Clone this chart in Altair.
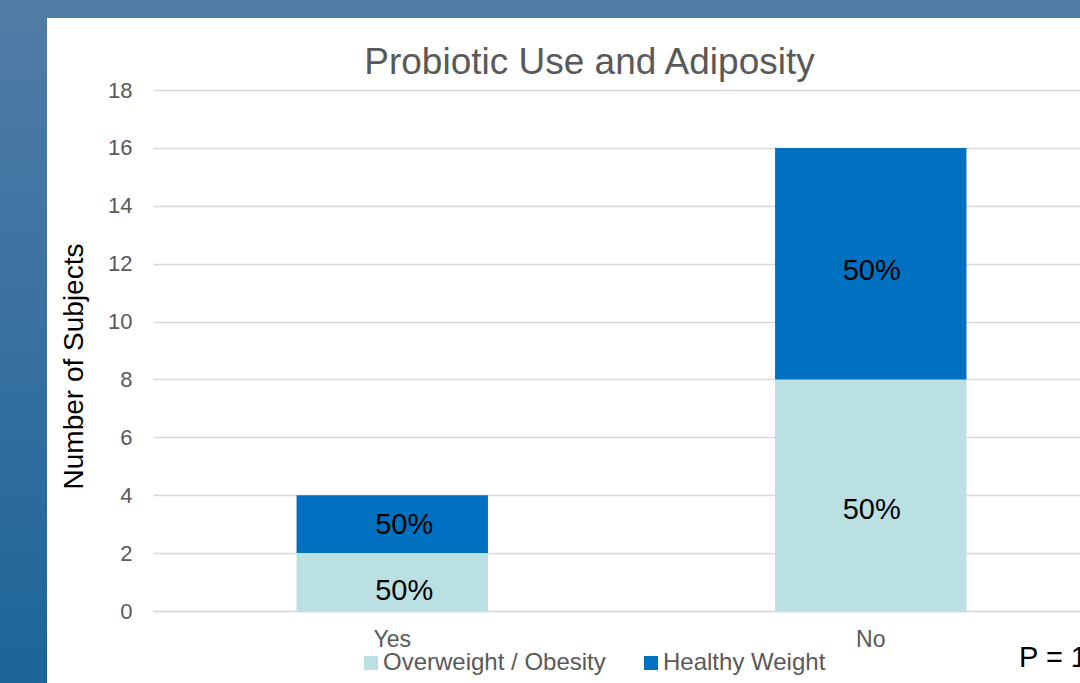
import altair as alt
import pandas as pd

# ---- data ----
categories = ["Yes", "No"]
series = ["Overweight / Obesity", "Healthy Weight"]
overweight = [2, 8]
healthy = [2, 8]
colors = ["#bbe0e3", "#0070c0"]
y_ticks = [0, 2, 4, 6, 8, 10, 12, 14, 16, 18]
title_text = "Probiotic Use and Adiposity"
y_title = "Number of Subjects"
p_text = "P = 1.00"

rows = []
for i, c in enumerate(categories):
    vals = [overweight[i], healthy[i]]
    total = sum(vals)
    for j, (s, v) in enumerate(zip(series, vals)):
        rows.append({"probiotic": c, "group": s, "count": v, "order": j,
                     "pct": f"{round(100 * v / total)}%"})
df = pd.DataFrame(rows)

FONT = "Liberation Sans"
W, H = 927, 521
GRAY = "#595959"

x_scale = alt.Scale(domain=categories, range=[0, 957], paddingInner=0.6, paddingOuter=0.3)
x_axis = alt.Axis(title=None, labelAngle=0, labelFontSize=23, labelFont=FONT, labelColor=GRAY,
                  labelPadding=17, ticks=False, domainColor="#d9d9d9", domainWidth=1.5, grid=False)
y_scale = alt.Scale(domain=[0, 18], nice=False)
y_axis = alt.Axis(values=y_ticks, title=y_title, labelFontSize=22, labelFont=FONT, labelColor=GRAY,
                  labelPadding=21, ticks=False, domain=False, gridColor="#d9d9d9", gridWidth=1.5,
                  titleFontSize=28, titleFont=FONT, titleColor="black", titleFontWeight="normal",
                  titleX=-65, titleY=276, titleAlign="center", titleBaseline="bottom", titleAngle=270)

bars = alt.Chart(df).mark_bar().encode(
    x=alt.X("probiotic:N", sort=categories, scale=x_scale, axis=x_axis),
    y=alt.Y("count:Q", stack="zero", scale=y_scale, axis=y_axis),
    color=alt.Color("group:N", scale=alt.Scale(domain=series, range=colors),
                    legend=alt.Legend(orient="none", legendX=206, legendY=561, direction="horizontal",
                                      title=None, symbolType="square", symbolSize=196,
                                      symbolStrokeWidth=0, symbolOpacity=1, labelFontSize=24,
                                      labelFont=FONT, labelColor=GRAY, labelOffset=0,
                                      labelLimit=0, columnPadding=33)),
    order=alt.Order("order:Q", sort="ascending"),
)

label_base = alt.Chart(df).transform_stack(
    stack="count", groupby=["probiotic"], as_=["y0", "y1"],
    sort=[alt.SortField("order", "ascending")]
).transform_calculate(mid="(datum.y0 + datum.y1) / 2")

def label_layer(order_value, category, dx, dy):
    return label_base.transform_filter(
        (alt.datum.order == order_value) & (alt.datum.probiotic == category)
    ).mark_text(
        fontSize=29, font=FONT, color="black", baseline="middle", align="center", dx=dx, dy=dy
    ).encode(
        x=alt.X("probiotic:N", sort=categories, title=None),
        y=alt.Y("mid:Q", title=y_title),
        text="pct:N",
    )

label_layers = [
    label_layer(0, "Yes", 12, 9),
    label_layer(1, "Yes", 12, 1),
    label_layer(0, "No", 1, 15),
    label_layer(1, "No", 1, 7),
]

strip_df = pd.DataFrame({"k": [0]})
left_strip = alt.Chart(strip_df).mark_rect(
    color=alt.LinearGradient(gradient="linear", x1=0, x2=0, y1=0, y2=1,
                             stops=[alt.GradientStop(color="#517ca6", offset=0),
                                    alt.GradientStop(color="#3a72a0", offset=0.45),
                                    alt.GradientStop(color="#1c6598", offset=1)])
).encode(x=alt.value(-153), x2=alt.value(-106), y=alt.value(-90), y2=alt.value(593))
top_strip = alt.Chart(strip_df).mark_rect(color="#517ca6").encode(
    x=alt.value(-153), x2=alt.value(W), y=alt.value(-90), y2=alt.value(-72))

p_df = pd.DataFrame({"t": [p_text]})
p_label = alt.Chart(p_df).mark_text(align="left", baseline="middle", fontSize=29, font=FONT,
                                    color="black").encode(
    x=alt.value(866), y=alt.value(568), text="t:N")

chart = alt.layer(left_strip, top_strip, bars, *label_layers, p_label).properties(
    width=W, height=H,
    padding={"left": 153, "top": 90, "right": 0, "bottom": 72},
    autosize=alt.AutoSizeParams(type="none"),
    background="white",
    title=alt.TitleParams(title_text, fontSize=37, font=FONT, color=GRAY, fontWeight="normal",
                          anchor="middle", frame="group", baseline="alphabetic", offset=0,
                          dx=-27, dy=111),
).configure_view(stroke=None)

chart.save("out.html", embed_options={"renderer": "svg", "actions": False})
